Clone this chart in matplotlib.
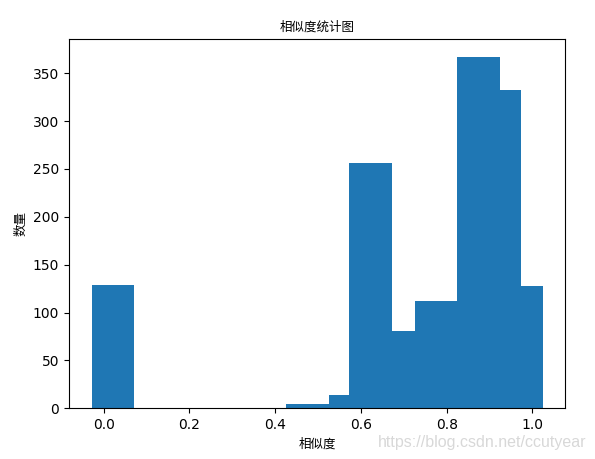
import matplotlib
matplotlib.use("Agg")
import matplotlib.pyplot as plt

plt.rcParams['font.family'] = ['DejaVu Sans', 'Noto Sans CJK SC']

# bars in drawing order (later ones cover earlier ones)
centers = [0.022, 0.475, 0.575, 0.623, 0.723, 0.775, 0.974, 0.924, 0.875]
heights = [129, 5, 14, 256, 81, 112, 128, 332, 367]
bar_width = 0.1

title = "相似度统计图"
xlabel = "相似度"
ylabel = "数量"
watermark = "https://blog.csdn.net/ccutyear"

W, H = 595, 459
fig = plt.figure(figsize=(W / 100, H / 100), dpi=100)
ax = fig.add_axes([69 / W, (H - 408.3) / H, (565.3 - 69) / W, (408.3 - 39.3) / H])

ax.bar(centers, heights, width=bar_width, color="#1f77b4", antialiased=False)

cjk = ['Noto Sans CJK SC', 'DejaVu Sans']
ax.set_title(title, family=cjk, fontsize=9)
ax.set_xlabel(xlabel, family=cjk, fontsize=9)
ax.set_ylabel(ylabel, family=cjk, fontsize=9)

fig.text(586 / W, 1 - 443 / H, watermark, ha="right", va="center",
         family="Liberation Sans", fontsize=11.5, color="#d8d8d8")

fig.savefig("out.png", dpi=100)
